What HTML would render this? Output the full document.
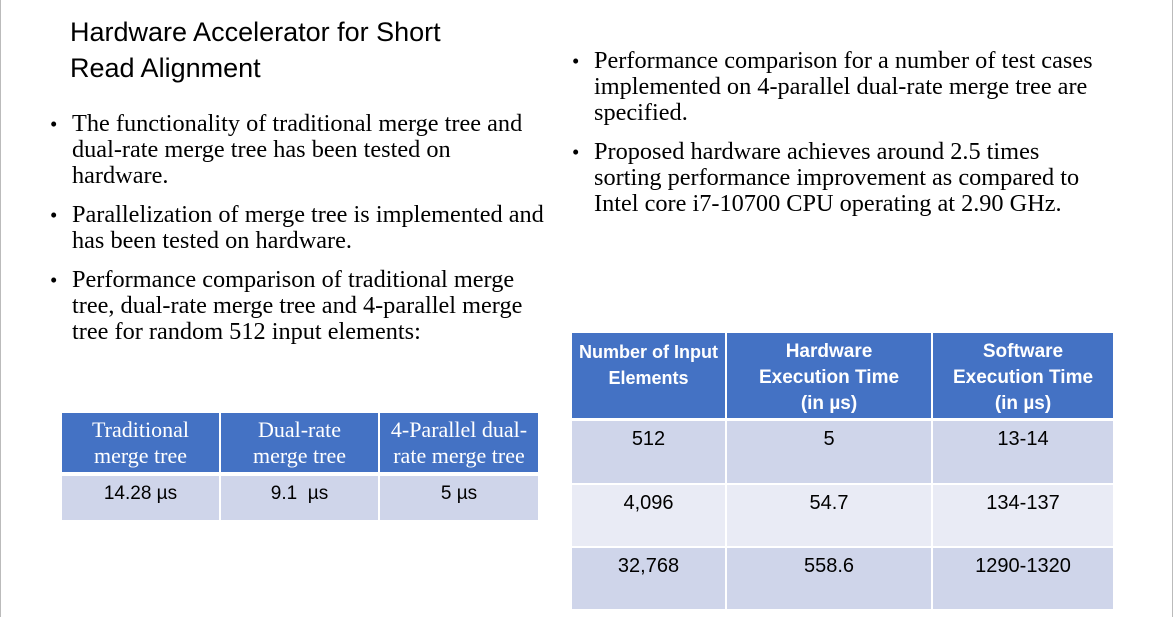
<!DOCTYPE html>
<html><head><meta charset="utf-8"><style>
body{margin:0;width:1175px;height:617px;background:#fff;position:relative;overflow:hidden;font-family:"Liberation Serif",serif;color:#000}
.a{position:absolute}
.t{font-family:"Liberation Sans",sans-serif;font-size:27px;line-height:36px;left:70px;top:14px}
.b{font-size:24.3px;line-height:26px;padding-left:22px;position:absolute;white-space:nowrap}
.b:before{content:"•";position:absolute;left:0;top:0;font-size:21px}
.c{position:absolute;display:flex;align-items:flex-start;justify-content:center;text-align:center;white-space:nowrap}
.h1{background:#4472c4;color:#fff;font-size:22px;line-height:26px;padding-top:4px;box-sizing:border-box}
.r1{font-family:"Liberation Sans",sans-serif;font-size:19px;padding-top:7px;box-sizing:border-box;background:#cfd5ea}
.h2{background:#4472c4;color:#fff;font-family:"Liberation Sans",sans-serif;font-weight:bold;font-size:19px;line-height:26px;padding-top:6px;box-sizing:border-box}
.r2{font-family:"Liberation Sans",sans-serif;font-size:20px;padding-top:7px;box-sizing:border-box}
</style></head><body>
<div class="a" style="left:0;top:0;width:1px;height:617px;background:#bbb"></div>
<div class="a" style="left:1172px;top:0;width:1px;height:617px;background:#bbb"></div>
<div class="a t">Hardware Accelerator for Short<br>Read Alignment</div>
<div class="b" style="left:50px;top:111px">The functionality of traditional merge tree and<br>dual-rate merge tree has been tested on<br>hardware.</div>
<div class="b" style="left:50px;top:202px">Parallelization of merge tree is implemented and<br>has been tested on hardware.</div>
<div class="b" style="left:50px;top:267px">Performance comparison of traditional merge<br>tree, dual-rate merge tree and 4-parallel merge<br>tree for random 512 input elements:</div>
<div class="b" style="left:572px;top:48px">Performance comparison for a number of test cases<br>implemented on 4-parallel dual-rate merge tree are<br>specified.</div>
<div class="b" style="left:572px;top:139px">Proposed hardware achieves around 2.5 times<br>sorting performance improvement as compared to<br>Intel core i7-10700 CPU operating at 2.90 GHz.</div>

<div class="c h1" style="left:62px;top:413px;width:157px;height:59px">Traditional<br>merge tree</div>
<div class="c h1" style="left:221px;top:413px;width:157px;height:59px">Dual-rate<br>merge tree</div>
<div class="c h1" style="left:380px;top:413px;width:158px;height:59px">4-Parallel dual-<br>rate merge tree</div>
<div class="c r1" style="left:62px;top:476px;width:157px;height:44px">14.28 µs</div>
<div class="c r1" style="left:221px;top:476px;width:157px;height:44px">9.1 &nbsp;µs</div>
<div class="c r1" style="left:380px;top:476px;width:158px;height:44px">5 µs</div>

<div class="c h2" style="left:572px;top:333px;width:153px;height:85px;font-size:18px">Number of Input<br>Elements</div>
<div class="c h2" style="left:727px;top:333px;width:204px;height:85px">Hardware<br>Execution Time<br>(in µs)</div>
<div class="c h2" style="left:933px;top:333px;width:180px;height:85px">Software<br>Execution Time<br>(in µs)</div>
<div class="c r2" style="left:572px;top:421px;width:153px;height:62px;background:#cfd5ea">512</div>
<div class="c r2" style="left:727px;top:421px;width:204px;height:62px;background:#cfd5ea">5</div>
<div class="c r2" style="left:933px;top:421px;width:180px;height:62px;background:#cfd5ea">13-14</div>
<div class="c r2" style="left:572px;top:485px;width:153px;height:61px;background:#e9ebf5">4,096</div>
<div class="c r2" style="left:727px;top:485px;width:204px;height:61px;background:#e9ebf5">54.7</div>
<div class="c r2" style="left:933px;top:485px;width:180px;height:61px;background:#e9ebf5">134-137</div>
<div class="c r2" style="left:572px;top:548px;width:153px;height:61px;background:#cfd5ea">32,768</div>
<div class="c r2" style="left:727px;top:548px;width:204px;height:61px;background:#cfd5ea">558.6</div>
<div class="c r2" style="left:933px;top:548px;width:180px;height:61px;background:#cfd5ea">1290-1320</div>
</body></html>
